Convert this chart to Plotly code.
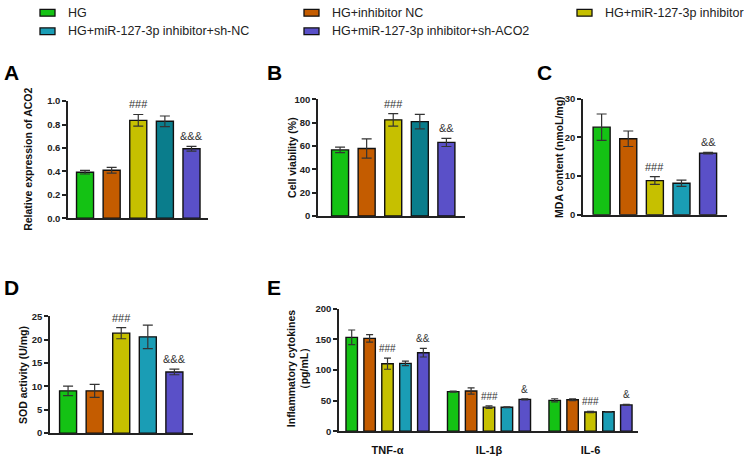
import plotly.graph_objects as go

W, H = 744, 456

groups = ["HG", "HG+inhibitor NC", "HG+miR-127-3p inhibitor",
          "HG+miR-127-3p inhibitor+sh-NC", "HG+miR-127-3p inhibitor+sh-ACO2"]
colors_ab = ["#14c214", "#c45c00", "#c6c000", "#0a7d8c", "#5a50c8"]
colors_cde = ["#14c214", "#c45c00", "#c6c000", "#1a9db5", "#5a50c8"]

# Panel A
aco2_mean = [0.393, 0.41, 0.836, 0.828, 0.593]
aco2_err = [0.015, 0.025, 0.05, 0.045, 0.02]
aco2_sig = ["", "", "###", "", "&&&"]
# Panel B
via_mean = [56.6, 57.8, 82.3, 80.8, 63.0]
via_err = [2.4, 8.2, 5.4, 6.2, 3.5]
via_sig = ["", "", "###", "", "&&"]
# Panel C
mda_mean = [22.6, 19.6, 8.8, 8.1, 15.9]
mda_err = [3.4, 2.0, 1.0, 0.8, 0.2]
mda_sig = ["", "", "###", "", "&&"]
# Panel D
sod_mean = [9.05, 9.05, 21.4, 20.6, 13.1]
sod_err = [1.0, 1.4, 1.2, 2.5, 0.6]
sod_sig = ["", "", "###", "", "&&&"]
# Panel E
cytokines = ["TNF-α", "IL-1β", "IL-6"]
cyto_mean = [
    [153.0, 64.5, 50.3],
    [151.3, 65.6, 51.3],
    [110.0, 39.2, 31.2],
    [110.6, 39.0, 31.6],
    [128.0, 51.9, 42.9],
]
cyto_err = [
    [12.0, 1.0, 2.6],
    [6.0, 5.0, 1.3],
    [9.0, 2.0, 1.0],
    [3.7, 0.5, 0.5],
    [7.0, 1.0, 1.0],
]
cyto_sig = [
    ["", "", ""],
    ["", "", ""],
    ["###", "###", "###"],
    ["", "", ""],
    ["&&", "&", "&"],
]

FONT = "Arial, Liberation Sans, sans-serif"
AX = "#222222"
ERR = "#333333"


def fx(px):
    return px / W


def fy(py):
    return 1 - py / H


fig = go.Figure()

short = ["g1", "g2", "g3", "g4", "g5"]

panels = [
    ("A", aco2_mean, aco2_err, aco2_sig, colors_ab, (68, 208), (218, 97.7), [0, 1.0], 0.2, ".1f",
     [-0.64, 4.62], "Relative expression of ACO2", (28, 158)),
    ("B", via_mean, via_err, via_sig, colors_ab, (318, 465), (215.7, 95.7), [0, 100], 20, "d",
     [-0.83, 4.70], "Cell viability (%)", (292, 156)),
    ("C", mda_mean, mda_err, mda_sig, colors_cde, (583, 727), (214.3, 95.0), [0, 30], 10, "d",
     [-0.70, 4.71], "MDA content (nmoL/mg)", (559, 155)),
    ("D", sod_mean, sod_err, sod_sig, colors_cde, (50, 193), (438.7, 318.7), [0, 25], 5, "d",
     [-0.68, 4.70], "SOD activity (U/mg)", (23, 379)),
]

annotations = []
shapes = []
layout_axes = {}

for i, (name, mean, err, sig, cols, xd, yd, yr, dt, fmt, xr, ttl, tpos) in enumerate(panels):
    n = i + 1
    xa = "x" if n == 1 else f"x{n}"
    ya = "y" if n == 1 else f"y{n}"
    fig.add_trace(go.Bar(
        x=short, y=mean, xaxis=xa, yaxis=ya, width=0.64,
        marker=dict(color=cols, line=dict(color="#111111", width=1.4)),
        error_y=dict(type="data", array=err, color=ERR, thickness=1.2, width=5),
        showlegend=False, hoverinfo="skip",
    ))
    xk = "xaxis" if n == 1 else f"xaxis{n}"
    yk = "yaxis" if n == 1 else f"yaxis{n}"
    layout_axes[xk] = dict(domain=[fx(xd[0]), fx(xd[1])], anchor=ya, range=xr,
                           showline=True, linecolor=AX, linewidth=1.5, ticks="",
                           showticklabels=False, showgrid=False, zeroline=False,
                           type="category")
    layout_axes[yk] = dict(domain=[fy(yd[0]), fy(yd[1])], anchor=xa, range=yr, dtick=dt,
                           tickformat=fmt, showline=True, linecolor=AX, linewidth=1.5,
                           ticks="outside", ticklen=4, tickwidth=1.5, tickcolor=AX,
                           showgrid=False, zeroline=False,
                           tickfont=dict(family=FONT, size=9.5, color="#222", weight="bold"))
    for k in range(5):
        if sig[k]:
            annotations.append(dict(x=short[k], y=mean[k] + err[k], xref=xa, yref=ya,
                                    text=sig[k], showarrow=False, yanchor="bottom",
                                    yshift=2,
                                    font=dict(family=FONT, size=11, color="#333")))
    annotations.append(dict(x=fx(tpos[0]), y=fy(tpos[1]), xref="paper", yref="paper",
                            text=ttl, textangle=-90, showarrow=False,
                            xanchor="center", yanchor="middle",
                            font=dict(family=FONT, size=10.5, color="#111", weight="bold")))

# Panel E
for k in range(5):
    fig.add_trace(go.Bar(
        x=cytokines, y=cyto_mean[k], xaxis="x5", yaxis="y5", name=groups[k],
        marker=dict(color=colors_cde[k], line=dict(color="#111111", width=1.4)),
        error_y=dict(type="data", array=cyto_err[k], color=ERR, thickness=1.2, width=3.5),
        showlegend=False, hoverinfo="skip",
    ))
layout_axes["xaxis5"] = dict(domain=[fx(339), fx(638)], anchor="y5", range=[-0.478, 2.468],
                             showline=True, linecolor=AX, linewidth=1.5, ticks="",
                             showgrid=False, zeroline=False, type="category",
                             ticklabelstandoff=8,
                             tickfont=dict(family=FONT, size=11, color="#111", weight="bold"))
layout_axes["yaxis5"] = dict(domain=[fy(436.7), fy(310.7)], anchor="x5", range=[0, 200], dtick=50,
                             showline=True, linecolor=AX, linewidth=1.5,
                             ticks="outside", ticklen=4, tickwidth=1.5, tickcolor=AX,
                             showgrid=False, zeroline=False,
                             tickfont=dict(family=FONT, size=9.5, color="#222", weight="bold"))

bargap, bargroupgap = 0.118, 0.36
slot = (1 - bargap) / 5
for k in range(5):
    for c in range(3):
        if cyto_sig[k][c]:
            annotations.append(dict(x=c - (1 - bargap) / 2 + slot * (k + 0.5),
                                    y=cyto_mean[k][c] + cyto_err[k][c],
                                    xref="x5", yref="y5", text=cyto_sig[k][c],
                                    showarrow=False, yanchor="bottom", yshift=2,
                                    font=dict(family=FONT, size=10, color="#333")))
annotations.append(dict(x=fx(298), y=fy(373), xref="paper", yref="paper",
                        text="Inflammatory cytokines<br>（pg/mL）", textangle=-90,
                        showarrow=False, xanchor="center", yanchor="middle",
                        font=dict(family=FONT, size=10.5, color="#111", weight="bold")))

for letter, px, py in [("A", 2, 68), ("B", 265, 68), ("C", 535, 68), ("D", 2, 289), ("E", 265, 289)]:
    annotations.append(dict(x=fx(px), y=fy(py), xref="paper", yref="paper", text=letter,
                            showarrow=False, xanchor="left", yanchor="middle",
                            font=dict(family=FONT, size=21, color="#000", weight="bold")))

# legend (3 columns x 2 rows, swatch + label)
leg_cols = [40, 304, 577]
leg_rows = [7, 26]
leg_slots = [(0, 0), (1, 0), (2, 0), (0, 1), (1, 1)]
for k, (c, r) in enumerate(leg_slots):
    x0 = leg_cols[c]
    yc = leg_rows[r]
    shapes.append(dict(type="rect", xref="paper", yref="paper",
                       x0=fx(x0), x1=fx(x0 + 15), y0=fy(yc + 3.5), y1=fy(yc - 3.5),
                       fillcolor=colors_cde[k], line=dict(color="#111111", width=1.3)))
    annotations.append(dict(x=fx(x0 + 26), y=fy(yc), xref="paper", yref="paper",
                            text=groups[k], showarrow=False, xanchor="left", yanchor="middle",
                            font=dict(family=FONT, size=12.5, color="#222")))

fig.update_layout(
    width=W, height=H, margin=dict(l=0, r=0, t=0, b=0),
    paper_bgcolor="white", plot_bgcolor="white",
    barmode="group", bargap=bargap, bargroupgap=bargroupgap,
    annotations=annotations, shapes=shapes, showlegend=False,
    **layout_axes,
)

fig.write_html("out.html")
